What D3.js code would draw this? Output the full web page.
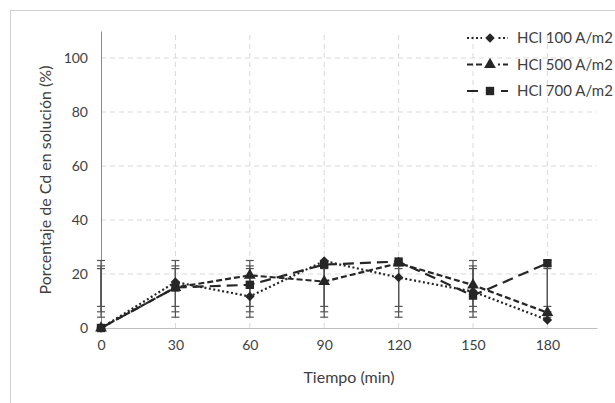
<!DOCTYPE html>
<html><head><meta charset="utf-8">
<script src="https://cdn.jsdelivr.net/npm/d3@7"></script>
<style>body{margin:0;background:#fff;} svg{display:block;} text{font-family:Lato, "Open Sans", sans-serif;fill:#404040;}</style>
</head><body>
<svg id="c" width="615" height="403"></svg>
<script>
const times = [0, 30, 60, 90, 120, 150, 180];
const xTicks = [0, 30, 60, 90, 120, 150, 180];
const yTicks = [0, 20, 40, 60, 80, 100];
const seriesNames = ["HCl 100 A/m2", "HCl 500 A/m2", "HCl 700 A/m2"];
const hcl100 = [0, 17, 11.7, 24.8, 18.7, 13.5, 3];
const hcl500 = [0, 15, 19.5, 17.2, 24, 15.9, 5.7];
const hcl700 = [0, 15, 16, 23.5, 24.6, 12, 24];
const errUpper = [25, 23, 22];
const errLower = [4, 6, 8];

const svg = d3.select("#c");
svg.append("rect").attr("x", 10.5).attr("y", 10.5).attr("width", 620).attr("height", 400)
  .attr("fill", "#fff").attr("stroke", "#d0d0d0").attr("stroke-width", 1);

const x = d3.scaleLinear().domain([0, 200]).range([101, 597]);
const y = d3.scaleLinear().domain([0, 110]).range([328, 31]);

const g = svg.append("g");
g.selectAll(".hg").data(yTicks.filter(d => d > 0)).join("line")
  .attr("x1", x(0)).attr("x2", x(200)).attr("y1", d => y(d)).attr("y2", d => y(d))
  .attr("stroke", "#d9d9d9").attr("stroke-dasharray", "5,4");
g.selectAll(".vg").data(xTicks.filter(d => d > 0)).join("line")
  .attr("x1", d => x(d)).attr("x2", d => x(d)).attr("y1", y(0)).attr("y2", y(110))
  .attr("stroke", "#d9d9d9").attr("stroke-dasharray", "5,4");

const xAxis = d3.axisBottom(x).tickValues(xTicks).tickSize(0).tickPadding(12);
const xa = g.append("g").attr("transform", `translate(0,${y(0)})`).call(xAxis);
xa.select(".domain").attr("stroke", "#bfbfbf");
xa.selectAll("text").style("font-size", "14px").attr("fill", "#404040");
const yAxis = d3.axisLeft(y).tickValues(yTicks).tickSize(0).tickPadding(13);
const ya = g.append("g").attr("transform", `translate(${x(0)},0)`).call(yAxis);
ya.select(".domain").attr("stroke", "#8a8a8a");
ya.selectAll("text").style("font-size", "14px").attr("fill", "#404040");

svg.append("text").attr("x", 349).attr("y", 383).attr("text-anchor", "middle")
  .style("font-size", "16px").text("Tiempo (min)");
svg.append("text").attr("transform", "translate(51,180) rotate(-90)").attr("text-anchor", "middle")
  .style("font-size", "16px").text("Porcentaje de Cd en solución (%)");

const series = [hcl100, hcl500, hcl700];
const dashes = ["2,2.5", "6,3", "11,6"];
const ink = "#262626";

series.forEach((s, si) => {
  const eb = g.append("g");
  times.forEach((t) => {
    eb.append("line").attr("x1", x(t)).attr("x2", x(t)).attr("y1", y(errUpper[si])).attr("y2", y(errLower[si]))
      .attr("stroke", "#555").attr("stroke-width", 1.2);
    [errUpper[si], errLower[si]].forEach(v => {
      eb.append("line").attr("x1", x(t) - 4).attr("x2", x(t) + 4).attr("y1", y(v)).attr("y2", y(v))
        .attr("stroke", "#555").attr("stroke-width", 1.2);
    });
  });
});

const line = d3.line().x((d, i) => x(times[i])).y(d => y(d));
series.forEach((s, si) => {
  g.append("path").datum(s).attr("d", line).attr("fill", "none").attr("stroke", ink)
    .attr("stroke-width", 2.2).attr("stroke-dasharray", dashes[si]);
});
const symbols = [d3.symbolSquare, d3.symbolTriangle, d3.symbolSquare];
const sizes = [45, 60, 70];
const rots = [45, 0, 0];
series.forEach((s, si) => {
  g.selectAll(null).data(s).join("path")
    .attr("transform", (d, i) => `translate(${x(times[i])},${y(d)}) rotate(${rots[si]})`)
    .attr("d", d3.symbol(symbols[si], sizes[si])).attr("fill", ink);
});

const leg = svg.append("g");
seriesNames.forEach((n, i) => {
  const ly = 38 + i * 26.5;
  leg.append("line").attr("x1", 467).attr("x2", 508).attr("y1", ly).attr("y2", ly)
    .attr("stroke", ink).attr("stroke-width", 2.2).attr("stroke-dasharray", dashes[i]);
  leg.append("rect").attr("x", 482).attr("y", ly - 6).attr("width", 16).attr("height", 12).attr("fill", "#fff");
  leg.append("path").attr("transform", `translate(490,${ly}) rotate(${rots[i]})`).attr("d", d3.symbol(symbols[i], sizes[i])).attr("fill", ink);
  leg.append("text").attr("x", 517).attr("y", ly + 5).style("font-size", "15px").text(n);
});
</script>
</body></html>
